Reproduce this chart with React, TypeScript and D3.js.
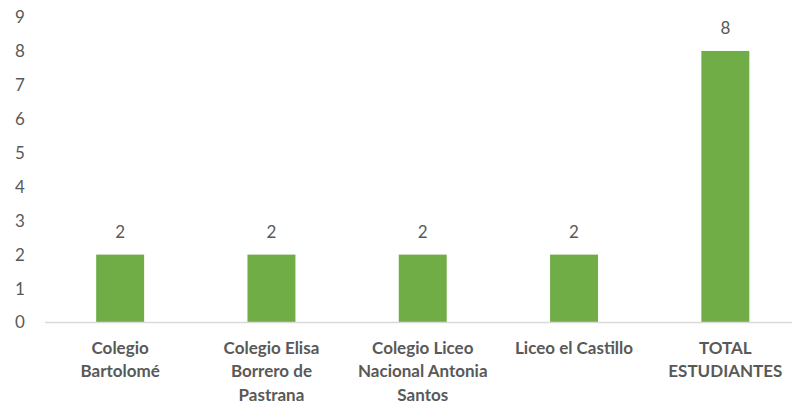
import React from "react";
import { scaleBand, scaleLinear, range } from "d3";

// data
const categories: string[][] = [
  ["Colegio", "Bartolomé"],
  ["Colegio Elisa", "Borrero de", "Pastrana"],
  ["Colegio Liceo", "Nacional Antonia", "Santos"],
  ["Liceo el Castillo"],
  ["TOTAL", "ESTUDIANTES"],
];
const values: number[] = [2, 2, 2, 2, 8];
const yTicks: number[] = range(0, 10);

const W = 792;
const H = 405;
const FONT = "Lato, 'Open Sans', sans-serif";
const TEXT = "#595959";

export default function App() {
  const x = scaleBand<number>()
    .domain(range(values.length))
    .range([44.5, 801])
    .paddingInner(0)
    .paddingOuter(0);
  const y = scaleLinear().domain([0, 9]).range([322.5, 17]);
  const barW = x.bandwidth() * 0.317;

  return (
    <svg
      width={W}
      height={H}
      style={{ position: "absolute", left: 0, top: 0, background: "#fff" }}
    >
      {/* y tick labels */}
      {yTicks.map((t) => (
        <text
          key={t}
          x={20}
          y={y(t)}
          dy="0.35em"
          textAnchor="middle"
          fontFamily={FONT}
          fontSize={17}
          fill={TEXT}
        >
          {t}
        </text>
      ))}

      {/* bars */}
      {values.map((v, i) => {
        const cx = x(i)! + x.bandwidth() / 2;
        return (
          <g key={i}>
            <rect
              x={cx - barW / 2}
              y={y(v)}
              width={barW}
              height={y(0) - y(v)}
              fill="#70AD47"
            />
            <text
              x={cx}
              y={y(v) - 23}
              dy="0.35em"
              textAnchor="middle"
              fontFamily={FONT}
              fontSize={17}
              fill={TEXT}
            >
              {v}
            </text>
          </g>
        );
      })}

      {/* baseline */}
      <line x1={45} x2={W} y1={y(0)} y2={y(0)} stroke="#D9D9D9" strokeWidth={1.3} />

      {/* category labels */}
      {categories.map((lines, i) => {
        const cx = x(i)! + x.bandwidth() / 2;
        return (
          <text
            key={i}
            textAnchor="middle"
            fontFamily={FONT}
            fontSize={17}
            fontWeight="bold"
            fill={TEXT}
          >
            {lines.map((l, j) => (
              <tspan key={j} x={cx} y={348 + j * 23.5} dy="0.35em">
                {l}
              </tspan>
            ))}
          </text>
        );
      })}
    </svg>
  );
}
